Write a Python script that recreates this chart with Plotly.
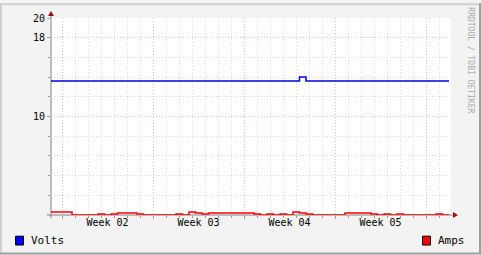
import plotly.graph_objects as go

# ---------------- data ----------------
# 12-hour samples; time in days relative to Monday of Week 02
t_start = -1.23
step = 0.5
volts = [13.6] * 39 + [14.0] + [13.6] * 22
amps = [0.3, 0.3, 0.3, 0.3, 0, 0, 0, 0, 0.1, 0, 0.1, 0.2, 0.2, 0.2, 0.1,
        0, 0, 0, 0, 0, 0.1, 0, 0.3, 0.2, 0.1, 0.2, 0.2, 0.2, 0.2, 0.2,
        0.2, 0.2, 0.1, 0, 0.1, 0, 0.1, 0, 0.3, 0.2, 0.1, 0, 0, 0, 0, 0,
        0.2, 0.2, 0.2, 0.2, 0.1, 0, 0.1, 0, 0.1, 0, 0, 0, 0, 0, 0.1, 0]
times = [t_start + step * k for k in range(len(volts) + 1)]
volts_plot = volts + [volts[-1]]
amps_plot = amps + [amps[-1]]

week_pos = [3.5, 10.5, 17.5, 24.5]
week_labels = ["Week 02", "Week 03", "Week 04", "Week 05"]
week_bounds = [0, 7, 14, 21, 28]
day_lines = list(range(0, 30))
y_major = [10, 18, 20]
y_major_labels = ["10", "18", "20"]
y_minor = [2, 4, 6, 8, 12, 14, 16]

# ---------------- layout geometry ----------------
W_FIG, H_FIG = 481, 255
L, T, PW, PH = 51, 15, 400, 200
x_range = [-11 / 13, (L + PW - 62) / 13]


def PX(px):
    return (px - L) / PW


def PY(py):
    return (T + PH - py) / PH


FONT = "DejaVu Sans Mono"
MAJ = "rgba(235,170,170,0.75)"
MIN = "rgba(200,200,200,0.65)"
DASH = "1px,2px"

fig = go.Figure()
fig.add_trace(go.Scatter(x=times, y=volts_plot, mode="lines", name="Volts",
                         line=dict(color="#0000E0", width=1.5, shape="hv"),
                         showlegend=False))
fig.add_trace(go.Scatter(x=times, y=amps_plot, mode="lines", name="Amps",
                         line=dict(color="#FF0000", width=1.5, shape="hv"),
                         showlegend=False))

fig.update_layout(
    width=W_FIG, height=H_FIG,
    margin=dict(l=L, r=W_FIG - L - PW, t=T, b=H_FIG - T - PH),
    paper_bgcolor="#F3F3F3", plot_bgcolor="#FFFFFF",
    font=dict(family=FONT, size=10, color="#000000"),
    xaxis=dict(range=x_range, tickmode="array", tickvals=week_pos, ticktext=week_labels,
               showgrid=False, zeroline=False, showline=False, ticks="",
               tickfont=dict(family=FONT, size=10, color="#000"),
               minor=dict(tickvals=day_lines, showgrid=True, gridcolor=MIN,
                          griddash=DASH, gridwidth=1, ticks="outside",
                          ticklen=2, tickcolor="#999")),
    xaxis2=dict(range=x_range, overlaying="x", anchor="y", side="bottom",
                tickmode="array", tickvals=week_bounds, showticklabels=False,
                showgrid=True, gridcolor=MAJ, griddash=DASH, gridwidth=1,
                zeroline=False, showline=False, ticks="outside", ticklen=3,
                tickcolor="#999"),
    yaxis=dict(range=[0, 20], tickmode="array", tickvals=y_major, ticktext=y_major_labels,
               showgrid=True, gridcolor=MAJ, griddash=DASH, gridwidth=1,
               zeroline=False, showline=False, ticks="outside", ticklen=3,
               tickcolor="#999", tickfont=dict(family=FONT, size=10, color="#000"),
               minor=dict(tickvals=y_minor, showgrid=True, gridcolor=MIN,
                          griddash=DASH, gridwidth=1, ticks="outside",
                          ticklen=2, tickcolor="#999")),
)

# dummy trace on xaxis2 so the overlay axis is drawn
fig.add_trace(go.Scatter(x=[None], y=[None], xaxis="x2", yaxis="y", showlegend=False))

shapes = []
# axis lines
shapes.append(dict(type="line", xref="paper", yref="paper", layer="between",
                   x0=PX(47), x1=PX(454), y0=PY(215), y1=PY(215),
                   line=dict(color="#808080", width=1)))
shapes.append(dict(type="line", xref="paper", yref="paper", layer="between",
                   x0=PX(51), x1=PX(51), y0=PY(218), y1=PY(12),
                   line=dict(color="#808080", width=1)))
# arrows
shapes.append(dict(type="path", xref="paper", yref="paper",
                   path=f"M {PX(48)},{PY(13)} L {PX(54)},{PY(13)} L {PX(51)},{PY(8)} Z",
                   fillcolor="#A01010", line=dict(width=0)))
shapes.append(dict(type="path", xref="paper", yref="paper",
                   path=f"M {PX(453)},{PY(212)} L {PX(453)},{PY(218)} L {PX(458)},{PY(215)} Z",
                   fillcolor="#A01010", line=dict(width=0)))
# frame (3D shading)
shapes.append(dict(type="rect", xref="paper", yref="paper", layer="above",
                   x0=PX(0), x1=PX(481), y0=PY(0), y1=PY(2),
                   fillcolor="#D0D0D0", line=dict(width=0)))
shapes.append(dict(type="rect", xref="paper", yref="paper", layer="above",
                   x0=PX(0), x1=PX(2), y0=PY(0), y1=PY(255),
                   fillcolor="#D0D0D0", line=dict(width=0)))
shapes.append(dict(type="rect", xref="paper", yref="paper", layer="above",
                   x0=PX(0), x1=PX(481), y0=PY(253), y1=PY(255),
                   fillcolor="#A0A0A0", line=dict(width=0)))
shapes.append(dict(type="rect", xref="paper", yref="paper", layer="above",
                   x0=PX(479), x1=PX(481), y0=PY(0), y1=PY(255),
                   fillcolor="#A0A0A0", line=dict(width=0)))
# legend swatches
shapes.append(dict(type="rect", xref="paper", yref="paper",
                   x0=PX(15.5), x1=PX(23.5), y0=PY(236.5), y1=PY(245.5),
                   fillcolor="#0000FF", line=dict(color="#000", width=1)))
shapes.append(dict(type="rect", xref="paper", yref="paper",
                   x0=PX(422.5), x1=PX(430.5), y0=PY(236.5), y1=PY(245.5),
                   fillcolor="#FF0000", line=dict(color="#000", width=1)))
fig.update_layout(shapes=shapes)

annotations = [
    dict(text="Volts", xref="paper", yref="paper", x=PX(29), y=PY(241),
         xanchor="left", yanchor="middle", showarrow=False,
         font=dict(family=FONT, size=11, color="#000")),
    dict(text="Amps", xref="paper", yref="paper", x=PX(436), y=PY(241),
         xanchor="left", yanchor="middle", showarrow=False,
         font=dict(family=FONT, size=11, color="#000")),
    dict(text="RRDTOOL / TOBI OETIKER", xref="paper", yref="paper",
         x=PX(471), y=PY(58), textangle=90, xanchor="center", yanchor="middle",
         showarrow=False, font=dict(family=FONT, size=8, color="#AAAAAA")),
]
fig.update_layout(annotations=annotations)

fig.write_html("out.html")
